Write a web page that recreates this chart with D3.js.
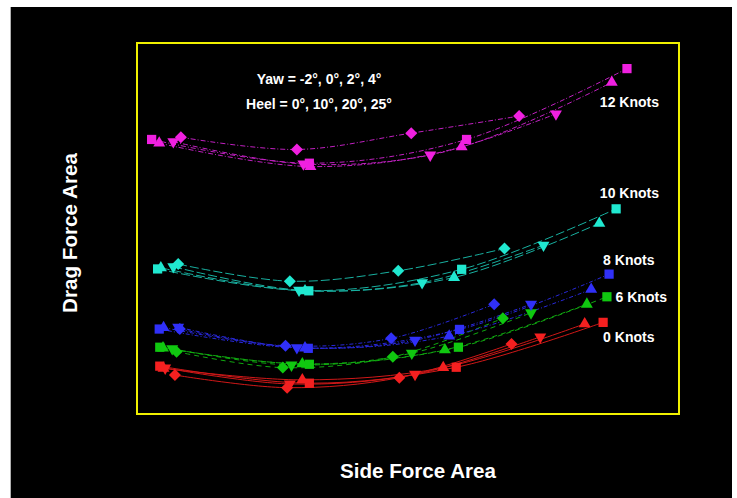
<!DOCTYPE html>
<html><head><meta charset="utf-8">
<script src="https://cdn.jsdelivr.net/npm/d3@7"></script>
<style>html,body{margin:0;padding:0;background:#fff;}svg{display:block;}</style>
</head><body>
<svg id="chart" width="737" height="498"></svg>
<script>
// Data (arbitrary units; no tick labels in the original)
const speeds = ["0 Knots", "6 Knots", "8 Knots", "10 Knots", "12 Knots"];
const markers = ["square", "triangleUp", "triangleDown", "diamond"];

// Side force area (x) per speed, per marker series
const sideForce = {
  "12 Knots": [[0.27,3.18,6.08,9.04],[0.41,3.20,5.99,8.76],[0.67,3.07,5.41,7.73],[0.81,2.95,5.06,7.05]],
  "10 Knots": [[0.38,3.17,5.99,8.84],[0.44,3.10,5.85,8.53],[0.67,2.99,5.26,7.50],[0.76,2.82,4.82,6.78]],
  "8 Knots":  [[0.41,3.16,5.95,8.71],[0.49,3.10,5.76,8.38],[0.76,2.95,5.13,7.27],[0.79,2.74,4.69,6.59]],
  "6 Knots":  [[0.42,3.18,5.93,8.67],[0.48,3.05,5.68,8.30],[0.65,2.85,5.07,7.27],[0.73,2.69,4.72,6.75]],
  "0 Knots":  [[0.42,3.18,5.89,8.60],[0.49,3.05,5.65,8.26],[0.52,2.82,5.13,7.44],[0.70,2.77,4.84,6.91]]
};
// Drag force area (y)
const dragForce = {
  "12 Knots": [[7.40,6.76,7.40,9.31],[7.30,6.67,7.20,8.94],[7.34,6.74,6.98,8.09],[7.46,7.13,7.57,8.03]],
  "10 Knots": [[3.91,3.32,3.90,5.53],[3.94,3.32,3.68,5.14],[3.97,3.34,3.54,4.55],[4.04,3.58,3.86,4.46]],
  "8 Knots":  [[2.29,1.77,2.28,3.77],[2.33,1.78,2.10,3.36],[2.34,1.79,1.99,2.96],[2.29,1.84,2.04,2.96]],
  "6 Knots":  [[1.80,1.34,1.80,3.16],[1.78,1.35,1.73,2.96],[1.76,1.32,1.64,2.73],[1.68,1.25,1.54,2.58]],
  "0 Knots":  [[1.29,0.83,1.26,2.47],[1.23,0.92,1.25,2.43],[1.24,0.81,1.07,2.08],[1.05,0.71,0.98,1.89]]
};
const speedLabels = ["0 Knots", "6 Knots", "8 Knots", "10 Knots", "12 Knots"];
const labelPos = { // [x, y] in data units for the speed labels
  "12 Knots": [8.54, 8.41], "10 Knots": [8.54, 5.95], "8 Knots": [8.6, 4.15],
  "6 Knots": [8.83, 3.16], "0 Knots": [8.6, 2.08]
};
const noteLines = ["Yaw = -2\u00B0, 0\u00B0, 2\u00B0, 4\u00B0", "Heel = 0\u00B0, 10\u00B0, 20\u00B0, 25\u00B0"];
const xTitle = "Side Force Area";
const yTitle = "Drag Force Area";

// Styles
const markerColor = {"12 Knots":"#f020e0","10 Knots":"#20e8d0","8 Knots":"#3030f8","6 Knots":"#10c810","0 Knots":"#f42020"};
const lineColor = {"12 Knots":"#c020c0","10 Knots":"#18b0a0","8 Knots":"#2828d8","6 Knots":"#10a810","0 Knots":"#d01818"};
const dash = {"12 Knots":"5,2,1,2","10 Knots":"9,3","8 Knots":"4,2,1,2","6 Knots":"5,4","0 Knots":null};

const svg = d3.select("#chart");
svg.append("rect").attr("x",11).attr("y",7).attr("width",721).attr("height",491).attr("fill","#000");
svg.append("line").attr("x1",10.5).attr("x2",10.5).attr("y1",7).attr("y2",498).attr("stroke","#b0b0b0");

const box = {x0:137, x1:679, y0:43, y1:414};
const x = d3.scaleLinear().domain([0,10]).range([box.x0, box.x1]);
const y = d3.scaleLinear().domain([0,10]).range([box.y1, box.y0]);

svg.append("rect").attr("x",box.x0).attr("y",box.y0).attr("width",box.x1-box.x0).attr("height",box.y1-box.y0)
  .attr("fill","none").attr("stroke","#f0f000").attr("stroke-width",2);

const line = d3.line().x(d=>x(d[0])).y(d=>y(d[1])).curve(d3.curveCatmullRom.alpha(0.5));

const sym = {
  square: d3.symbol().type(d3.symbolSquare).size(85)(),
  triangleUp: d3.symbol().type(d3.symbolTriangle).size(62)(),
  triangleDown: d3.symbol().type(d3.symbolTriangle).size(62)(),
  diamond: d3.symbol().type(d3.symbolSquare).size(72)()
};
const rot = {square:0, triangleUp:0, triangleDown:180, diamond:45};

const gL = svg.append("g"), gM = svg.append("g");
speeds.forEach(sp => {
  markers.forEach((m, i) => {
    const pts = sideForce[sp][i].map((v,j)=>[v, dragForce[sp][i][j]]);
    gL.append("path").attr("d", line(pts)).attr("fill","none")
      .attr("stroke", lineColor[sp]).attr("stroke-width",1)
      .attr("stroke-dasharray", dash[sp]);
    gM.selectAll(null).data(pts).enter().append("path")
      .attr("d", sym[m])
      .attr("transform", d=>`translate(${x(d[0])},${y(d[1])}) rotate(${rot[m]})`)
      .attr("fill", markerColor[sp]);
  });
});

svg.selectAll(".spl").data(speedLabels).enter().append("text")
  .attr("x", d=>x(labelPos[d][0])).attr("y", d=>y(labelPos[d][1]))
  .attr("dy","0.35em")
  .attr("font-family","Liberation Sans, Arial, sans-serif").attr("font-weight","bold")
  .attr("font-size",14).attr("fill","#fff").text(d=>d);

svg.selectAll(".note").data(noteLines).enter().append("text")
  .attr("x", 319).attr("y",(d,i)=>79+i*25).attr("dy","0.35em").attr("text-anchor","middle")
  .attr("font-family","Liberation Sans, Arial, sans-serif").attr("font-weight","bold")
  .attr("font-size",14).attr("fill","#fff").text(d=>d);

svg.append("text").attr("x",418).attr("y",471).attr("dy","0.35em").attr("text-anchor","middle")
  .attr("font-family","Liberation Sans, Arial, sans-serif").attr("font-weight","bold").attr("font-size",21)
  .attr("textLength",156).attr("lengthAdjust","spacingAndGlyphs").attr("fill","#fff")
  .text(xTitle);
svg.append("text").attr("transform","translate(70,233) rotate(-90)").attr("dy","0.35em").attr("text-anchor","middle")
  .attr("font-family","Liberation Sans, Arial, sans-serif").attr("font-weight","bold").attr("font-size",21)
  .attr("textLength",160).attr("lengthAdjust","spacingAndGlyphs").attr("fill","#fff")
  .text(yTitle);
</script>
</body></html>
